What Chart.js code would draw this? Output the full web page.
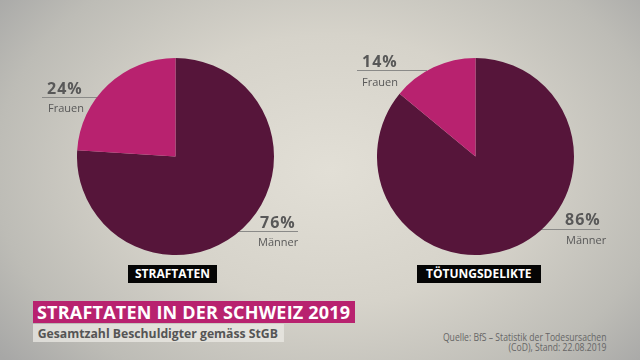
<!DOCTYPE html>
<html lang="de">
<head>
    <meta charset="UTF-8">
    <title>Straftaten in der Schweiz 2019</title>
    <script src="https://cdn.jsdelivr.net/npm/chart.js"></script>
    <style>
        html, body { margin: 0; padding: 0; }
        body {
            width: 640px; height: 360px; overflow: hidden; position: relative;
            font-family: "Open Sans", sans-serif;
            background: radial-gradient(ellipse 420px 300px at 330px 170px, #e2dfd6 0%, #d6d3ca 45%, #bdbcb6 80%, #a7a7a6 100%);
        }
        .pie { position: absolute; width: 197px; height: 197px; z-index: 2; }
        .pct { position: absolute; font-weight: 700; font-size: 16px; letter-spacing: 1px; color: #585858; line-height: 1; z-index: 3; }
        .cat { position: absolute; font-size: 11px; color: #585858; line-height: 1; z-index: 3; }
        .rule { position: absolute; height: 0; border-top: 1px solid #8a8a88; z-index: 1; }
        .tag { position: absolute; background: #050505; color: #fff; font-weight: 700; font-size: 12px;
               line-height: 18px; padding: 0 7px; z-index: 3; }
        #titel { position: absolute; left: 33px; top: 301px; height: 22px; background: #b8226f; color: #fff;
                 font-weight: 700; font-size: 18px; line-height: 22px; padding: 0 5px 0 4px; letter-spacing: 0.2px;
                 white-space: nowrap; }
        #untertitel { position: absolute; left: 33px; top: 324px; height: 18px; background: rgba(235,233,228,0.75);
                 color: #555; font-weight: 700; font-size: 13px; line-height: 18px; padding: 0 6px 0 5px;
                 white-space: nowrap; transform: scaleX(0.94); transform-origin: left top; }
        #quelle { position: absolute; right: 34px; top: 332px; text-align: right; color: #666;
                  font-size: 10.5px; line-height: 10px; white-space: nowrap;
                  transform: scaleX(0.82); transform-origin: right top; }
    </style>
</head>
<body>
    <div class="pie" style="left:77px; top:58px;"><canvas id="pieStraftaten"></canvas></div>
    <div class="pie" style="left:377px; top:58px;"><canvas id="pieToetung"></canvas></div>

    <div class="rule" style="left:42px; top:97px; width:80px;"></div>
    <div class="pct" id="lblS1" style="left:47px; top:80px;"></div>
    <div class="cat" id="catS1" style="left:48px; top:102px;"></div>
    <div class="rule" style="left:220px; top:231px; width:78px;"></div>
    <div class="pct" id="lblS0" style="left:260px; top:214px;"></div>
    <div class="cat" id="catS0" style="left:258px; top:236px;"></div>

    <div class="rule" style="left:357px; top:70px; width:70px;"></div>
    <div class="pct" id="lblT1" style="left:362px; top:53px;"></div>
    <div class="cat" id="catT1" style="left:362px; top:76px;"></div>
    <div class="rule" style="left:520px; top:229px; width:80px;"></div>
    <div class="pct" id="lblT0" style="left:565px; top:211px;"></div>
    <div class="cat" id="catT0" style="left:566px; top:234px;"></div>

    <div class="tag" id="tagS" style="left:128px; top:265px;"></div>
    <div class="tag" id="tagT" style="left:417px; top:265px; padding: 0 9px;"></div>

    <div id="titel">STRAFTATEN IN DER SCHWEIZ 2019</div>
    <div id="untertitel">Gesamtzahl Beschuldigter gemäss StGB</div>
    <div id="quelle">Quelle: BfS – Statistik der Todesursachen<br>(CoD), Stand: 22.08.2019</div>

    <script>
        // Daten
        var kategorien = ['Männer', 'Frauen'];
        var straftaten = [76, 24];
        var toetungsdelikte = [86, 14];
        var panelTitel = ['STRAFTATEN', 'TÖTUNGSDELIKTE'];
        var farben = ['#56153a', '#b8226f'];

        function zeichnePie(id, werte) {
            var ctx = document.getElementById(id).getContext('2d');
            return new Chart(ctx, {
                type: 'pie',
                data: {
                    labels: kategorien,
                    datasets: [{
                        data: werte,
                        backgroundColor: farben,
                        borderWidth: 0,
                    }],
                },
                options: {
                    responsive: true,
                    maintainAspectRatio: false,
                    animation: false,
                    layout: { padding: 0 },
                    plugins: {
                        legend: { display: false },
                        tooltip: { enabled: false },
                    },
                },
            });
        }

        zeichnePie('pieStraftaten', straftaten);
        zeichnePie('pieToetung', toetungsdelikte);

        // Beschriftungen aus den Daten
        document.getElementById('lblS0').textContent = straftaten[0] + '%';
        document.getElementById('lblS1').textContent = straftaten[1] + '%';
        document.getElementById('lblT0').textContent = toetungsdelikte[0] + '%';
        document.getElementById('lblT1').textContent = toetungsdelikte[1] + '%';
        document.getElementById('catS0').textContent = kategorien[0];
        document.getElementById('catS1').textContent = kategorien[1];
        document.getElementById('catT0').textContent = kategorien[0];
        document.getElementById('catT1').textContent = kategorien[1];
        document.getElementById('tagS').textContent = panelTitel[0];
        document.getElementById('tagT').textContent = panelTitel[1];
    </script>
</body>
</html>
